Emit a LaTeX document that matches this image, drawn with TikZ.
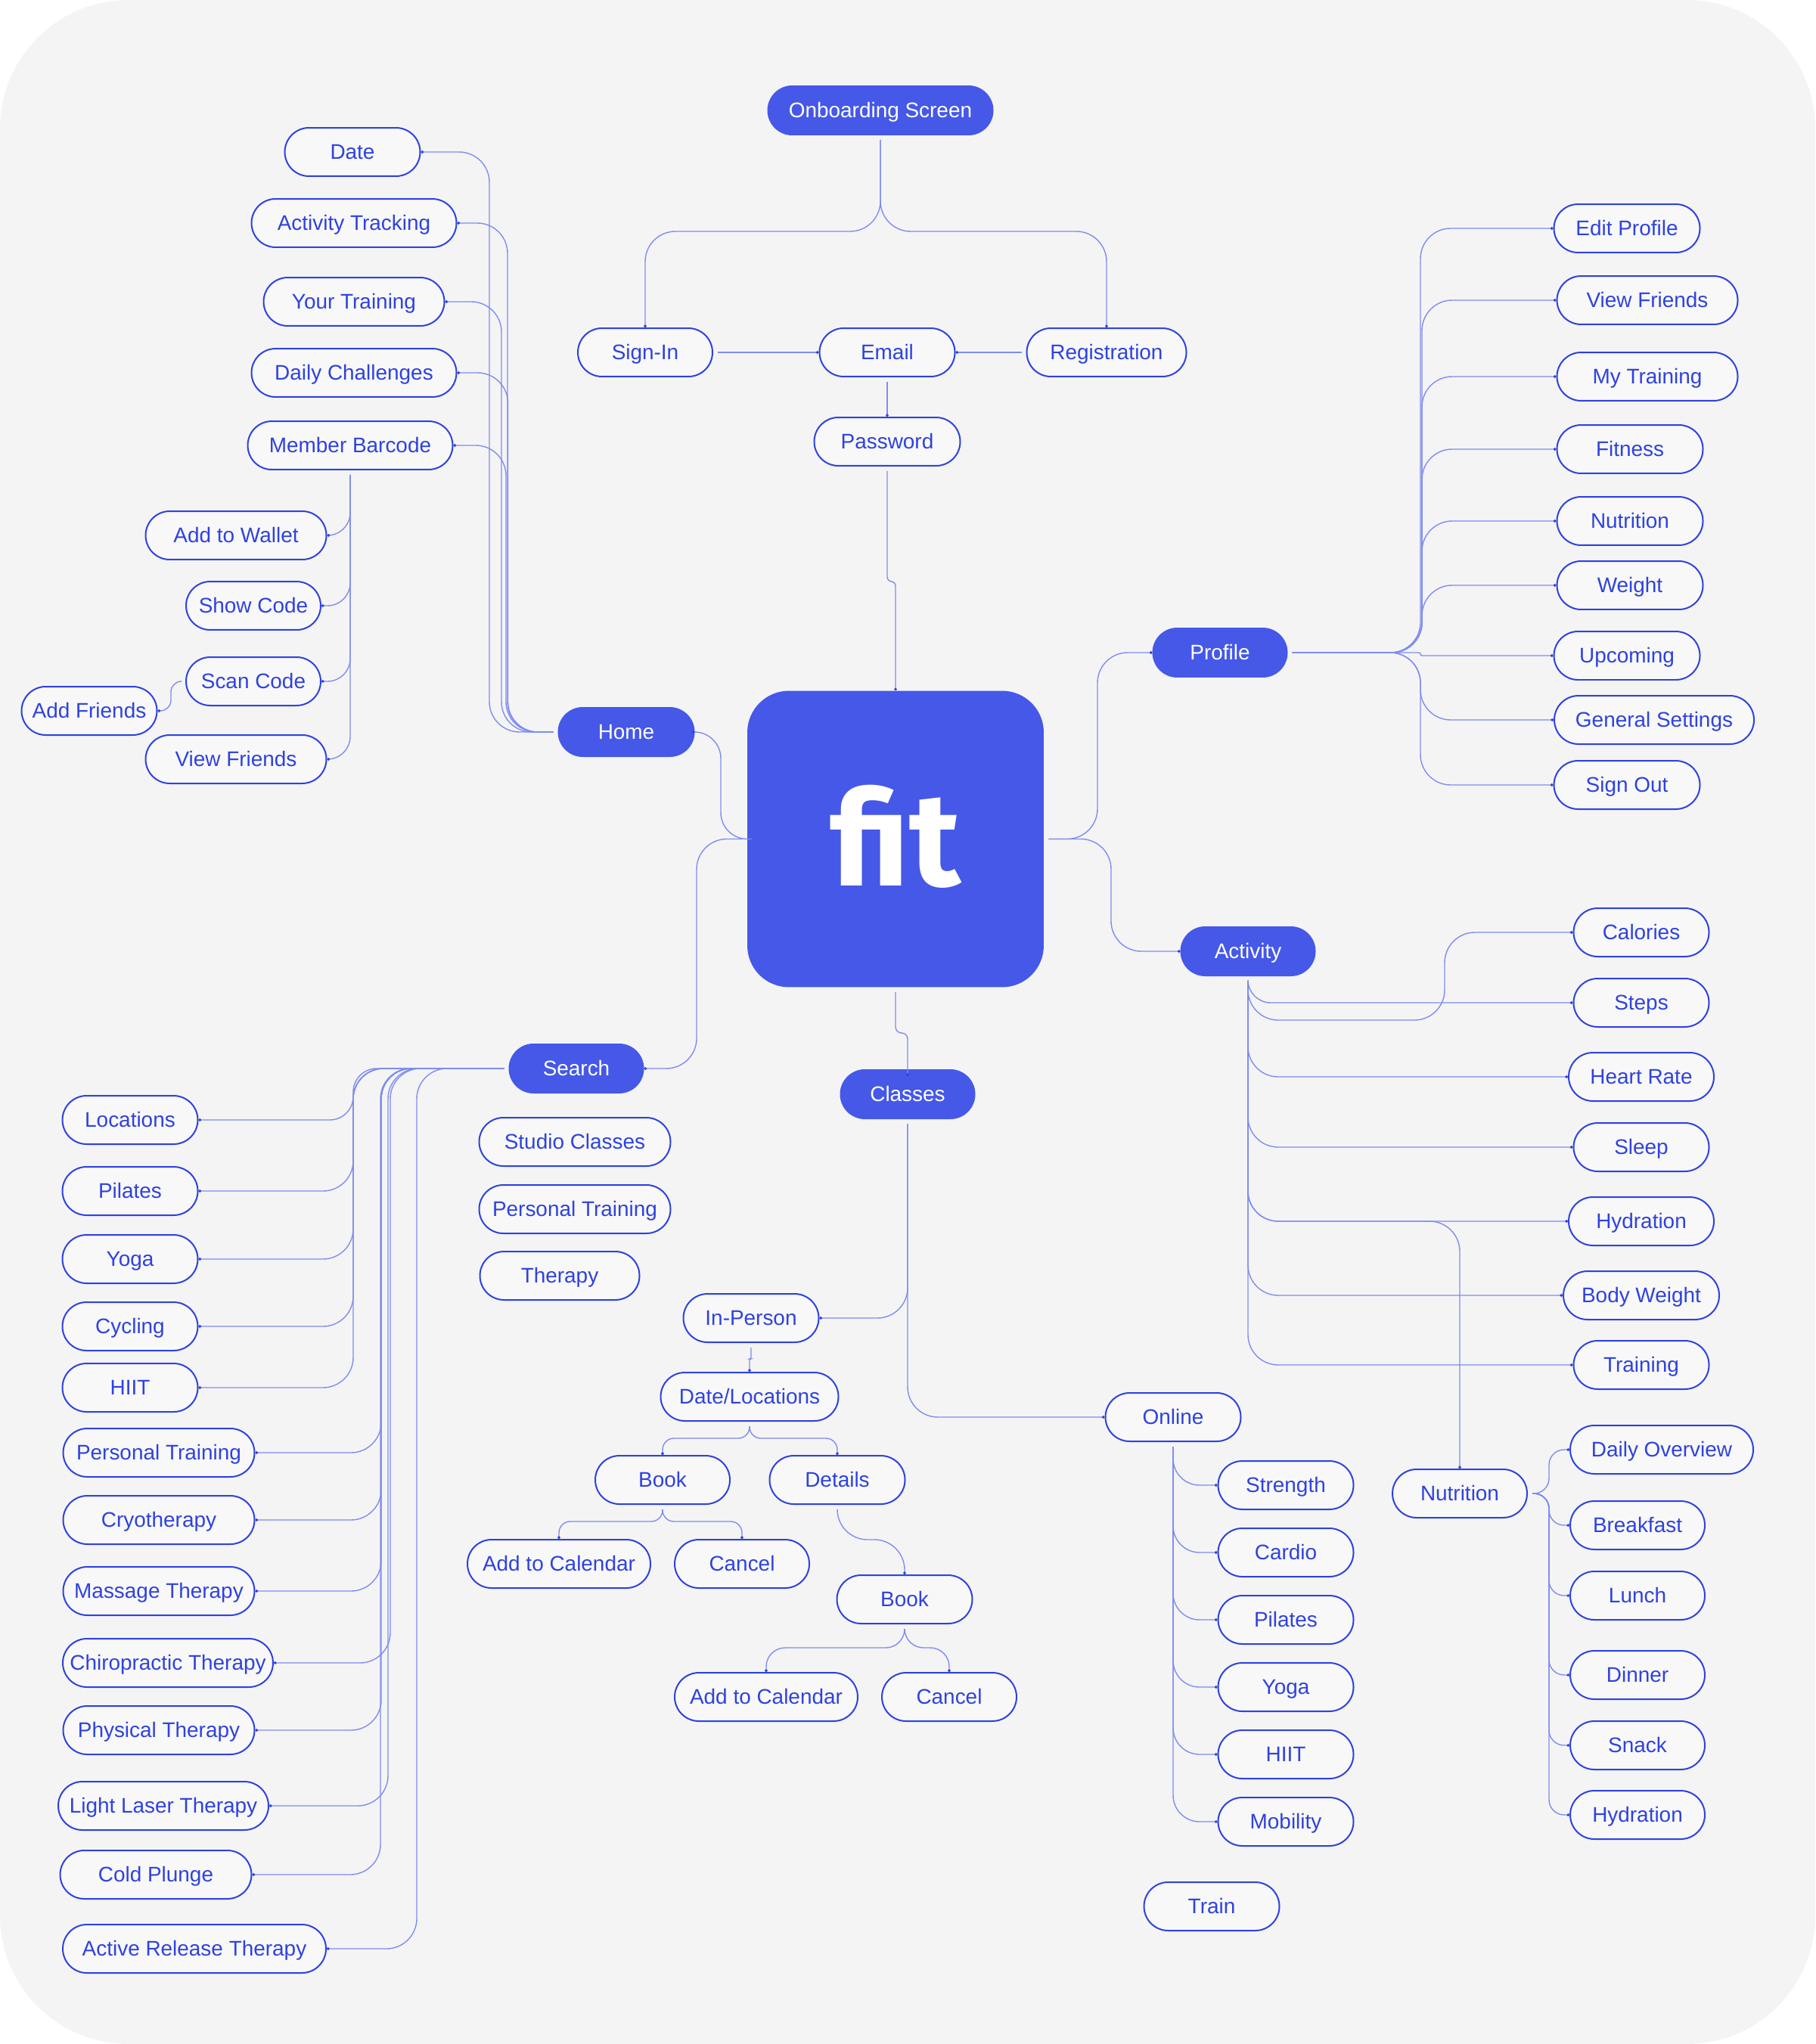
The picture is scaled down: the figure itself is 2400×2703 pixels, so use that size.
\documentclass[tikz,border=0pt]{standalone}
\usepackage{fontspec}
\setmainfont{Liberation Sans}
\newfontfamily\logofont{Fira Sans}
\usetikzlibrary{arrows.meta}
\definecolor{pageblue}{HTML}{4558E8}
\definecolor{edgeblue}{HTML}{2E42E0}
\definecolor{lineblue}{HTML}{7F8DEE}
\definecolor{pagegrey}{HTML}{F4F4F5}
\definecolor{pillgrey}{HTML}{F8F8F8}
\tikzset{
  pill/.style={draw=edgeblue,line width=0.04cm,fill=pillgrey,text=edgeblue,rounded corners=0.64cm,
    minimum width=(#1-2)*0.02cm,minimum height=1.28cm,inner sep=0pt,text height=0.56cm,text depth=0.18cm,font=\fontsize{15.9}{20}\selectfont},
  solidpill/.style={pill=#1,fill=pageblue,draw=pageblue,text=white},
  link/.style={draw=lineblue,line width=0.028cm,rounded corners=0.8cm,shorten <=0.12cm,-{Circle[length=2pt,color=edgeblue]}},
}
\begin{document}
\begin{tikzpicture}[x=0.02cm,y=-0.02cm]
\useasboundingbox (0,0) rectangle (2400,2703);
% Page
\fill[pagegrey,rounded corners=3.4cm] (0,0) rectangle (2400,2703);

% Centre
\node[fill=pageblue,rounded corners=1.1cm,minimum size=7.84cm,inner sep=0pt,text=white,text depth=0.2cm,font=\logofont\bfseries\fontsize{100}{100}\selectfont] (fit) at (1184,1109.5) {fit};

% Main pills
\node[solidpill=299] (onboard) at (1164,146) {Onboarding Screen};
\node[solidpill=181] (home) at (828,968) {Home};
\node[solidpill=179] (profile) at (1613,863) {Profile};
\node[solidpill=179] (activity) at (1650,1258) {Activity};
\node[solidpill=179] (classes) at (1200,1447) {Classes};
\node[solidpill=179] (search) at (762,1413) {Search};

% Onboarding
\node[pill=180] (signin) at (853,466) {Sign-In};
\node[pill=181] (email) at (1173,466) {Email};
\node[pill=213] (regist) at (1463,466) {Registration};
\node[pill=195] (password) at (1173,584) {Password};

\draw[link] (onboard.south) |- (853,306) -- (signin.north);
\draw[link] (onboard.south) |- (1463,306) -- (regist.north);
\draw[link] (signin.east) -- (email.west);
\draw[link] (regist.west) -- (email.east);
\draw[link] (email.south) -- (password.north);
\draw[link,rounded corners=0.12cm] (password.south) |- (1184,769) -- (fit.north);

% Home
\node[pill=181] (dateitem) at (466,201) {Date};
\node[pill=273] (tracking) at (468,295) {Activity Tracking};
\node[pill=241] (yourtrain) at (468,399) {Your Training};
\node[pill=273] (challenges) at (468,493) {Daily Challenges};
\node[pill=273] (barcode) at (463,589) {Member Barcode};
\node[pill=241] (wallet) at (312,708) {Add to Wallet};
\node[pill=180] (showcode) at (335,801) {Show Code};
\node[pill=180] (scancode) at (335,901) {Scan Code};
\node[pill=181] (addfriends) at (118,940) {Add Friends};
\node[pill=241] (viewfriends) at (312,1004) {View Friends};

\draw[link,rounded corners=0.7cm] (fit.west) -| (953,968) -- (home.east);
\draw[link] (home.west) -| (647,201) -- (dateitem.east);
\draw[link] (home.west) -| (671,295) -- (tracking.east);
\draw[link] (home.west) -| (663,399) -- (yourtrain.east);
\draw[link] (home.west) -| (671.5,493) -- (challenges.east);
\draw[link] (home.west) -| (669,589) -- (barcode.east);
\draw[link,rounded corners=0.6cm] (barcode.south) |- (wallet.east);
\draw[link,rounded corners=0.6cm] (barcode.south) |- (showcode.east);
\draw[link,rounded corners=0.6cm] (barcode.south) |- (scancode.east);
\draw[link,rounded corners=0.6cm] (barcode.south) |- (viewfriends.east);
\draw[link,rounded corners=0.28cm] (scancode.west) -| (226,940) -- (addfriends.east);

% Profile
\node[pill=195] (editprofile) at (2151,302) {Edit Profile};
\node[pill=241] (proffriends) at (2178,397) {View Friends};
\node[pill=241] (mytrain) at (2178,498) {My Training};
\node[pill=195] (fitness) at (2155,594) {Fitness};
\node[pill=195] (profnutrition) at (2155,689) {Nutrition};
\node[pill=195] (weight) at (2155,774) {Weight};
\node[pill=195] (upcoming) at (2151,867) {Upcoming};
\node[pill=266] (settings) at (2187,952) {General Settings};
\node[pill=195] (signout) at (2151,1038) {Sign Out};

\draw[link] (fit.east) -| (1451,863) -- (profile.west);
\draw[link] (profile.east) -| (1878,302) -- (editprofile.west);
\draw[link] (profile.east) -| (1880,397) -- (proffriends.west);
\draw[link] (profile.east) -| (1880,498) -- (mytrain.west);
\draw[link] (profile.east) -| (1880,594) -- (fitness.west);
\draw[link] (profile.east) -| (1880,689) -- (profnutrition.west);
\draw[link] (profile.east) -| (1880,774) -- (weight.west);
\draw[link,rounded corners=0.04cm] (profile.east) -| (1878,867) -- (upcoming.west);
\draw[link] (profile.east) -| (1878,952) -- (settings.west);
\draw[link] (profile.east) -| (1878,1038) -- (signout.west);

% Activity
\node[pill=181] (calories) at (2170,1233) {Calories};
\node[pill=181] (steps) at (2170,1326) {Steps};
\node[pill=194] (heartrate) at (2170,1424) {Heart Rate};
\node[pill=181] (sleep) at (2170,1517) {Sleep};
\node[pill=194] (hydration) at (2170,1615) {Hydration};
\node[pill=208] (bodyweight) at (2170,1713) {Body Weight};
\node[pill=181] (training) at (2170,1805) {Training};

\draw[link] (fit.east) -| (1469,1258) -- (activity.west);
\draw[link] (activity.south) |- (1910,1349) |- (calories.west);
\draw[link,rounded corners=0.6cm] (activity.south) |- (steps.west);
\draw[link] (activity.south) |- (heartrate.west);
\draw[link] (activity.south) |- (sleep.west);
\draw[link] (activity.south) |- (hydration.west);
\draw[link] (activity.south) |- (bodyweight.west);
\draw[link] (activity.south) |- (training.west);

% Nutrition
\node[pill=180] (nutrition) at (1930,1975) {Nutrition};
\node[pill=244] (overview) at (2197,1917) {Daily Overview};
\node[pill=180] (breakfast) at (2165,2017) {Breakfast};
\node[pill=180] (lunch) at (2165,2110) {Lunch};
\node[pill=180] (dinner) at (2165,2215) {Dinner};
\node[pill=180] (snack) at (2165,2308) {Snack};
\node[pill=180] (nutrihydra) at (2165,2400) {Hydration};

\draw[link] (activity.south) |- (1930,1615) -- (nutrition.north);
\draw[link,rounded corners=0.4cm] (nutrition.east) -| (2048,1917) -- (overview.west);
\draw[link,rounded corners=0.4cm] (nutrition.east) -| (2048,2017) -- (breakfast.west);
\draw[link,rounded corners=0.4cm] (nutrition.east) -| (2048,2110) -- (lunch.west);
\draw[link,rounded corners=0.4cm] (nutrition.east) -| (2048,2215) -- (dinner.west);
\draw[link,rounded corners=0.4cm] (nutrition.east) -| (2048,2308) -- (snack.west);
\draw[link,rounded corners=0.4cm] (nutrition.east) -| (2048,2400) -- (nutrihydra.west);

% Online
\node[pill=181] (online) at (1551,1874) {Online};
\node[pill=181] (strength) at (1700,1964) {Strength};
\node[pill=181] (cardio) at (1700,2053) {Cardio};
\node[pill=181] (onpilates) at (1700,2142) {Pilates};
\node[pill=181] (onyoga) at (1700,2231) {Yoga};
\node[pill=181] (onhiit) at (1700,2320) {HIIT};
\node[pill=181] (mobility) at (1700,2409) {Mobility};
\node[pill=181] (train) at (1602,2521) {Train};

\draw[link,rounded corners=0.7cm] (online.south) |- (strength.west);
\draw[link,rounded corners=0.7cm] (online.south) |- (cardio.west);
\draw[link,rounded corners=0.7cm] (online.south) |- (onpilates.west);
\draw[link,rounded corners=0.7cm] (online.south) |- (onyoga.west);
\draw[link,rounded corners=0.7cm] (online.south) |- (onhiit.west);
\draw[link,rounded corners=0.7cm] (online.south) |- (mobility.west);

% Classes
\node[pill=181] (inperson) at (993,1743) {In-Person};
\node[pill=237] (dateloc) at (991,1847) {Date/Locations};
\node[pill=180] (bookone) at (876,1957) {Book};
\node[pill=181] (details) at (1107,1957) {Details};
\node[pill=244] (calone) at (739,2068) {Add to Calendar};
\node[pill=180] (cancelone) at (981,2068) {Cancel};
\node[pill=181] (booktwo) at (1196,2115) {Book};
\node[pill=244] (caltwo) at (1013,2244) {Add to Calendar};
\node[pill=180] (canceltwo) at (1255,2244) {Cancel};

\draw[link,rounded corners=0.16cm,shorten >=-0.18cm] (fit.south) |- (1200,1366) -- (classes.north);
\draw[link] (classes.south) |- (inperson.east);
\draw[link] (classes.south) |- (online.west);
\draw[link,rounded corners=0.04cm] (inperson.south) |- (991,1797) -- (dateloc.north);
\draw[link,rounded corners=0.3cm] (dateloc.south) |- (876,1902) -- (bookone.north);
\draw[link,rounded corners=0.3cm] (dateloc.south) |- (1107,1902) -- (details.north);
\draw[link,rounded corners=0.3cm] (bookone.south) |- (739,2012) -- (calone.north);
\draw[link,rounded corners=0.3cm] (bookone.south) |- (981,2012) -- (cancelone.north);
\draw[link] (details.south) |- (1196,2036) -- (booktwo.north);
\draw[link,rounded corners=0.5cm] (booktwo.south) |- (1013,2179) -- (caltwo.north);
\draw[link,rounded corners=0.5cm] (booktwo.south) |- (1255,2179) -- (canceltwo.north);

% Search
\node[pill=181] (locations) at (172,1481) {Locations};
\node[pill=181] (pilates) at (172,1575) {Pilates};
\node[pill=181] (yoga) at (172,1665) {Yoga};
\node[pill=181] (cycling) at (172,1754) {Cycling};
\node[pill=181] (hiit) at (172,1835) {HIIT};
\node[pill=255] (personal) at (210,1921) {Personal Training};
\node[pill=255] (cryo) at (210,2010) {Cryotherapy};
\node[pill=255] (massage) at (210,2104) {Massage Therapy};
\node[pill=280] (chiro) at (222,2199) {Chiropractic Therapy};
\node[pill=255] (physical) at (210,2288) {Physical Therapy};
\node[pill=280] (laser) at (216,2388) {Light Laser Therapy};
\node[pill=255] (plunge) at (206,2479) {Cold Plunge};
\node[pill=350] (release) at (257,2577) {Active Release Therapy};
\node[pill=255] (studio) at (760,1510) {Studio Classes};
\node[pill=255] (personaltwo) at (760,1599) {Personal Training};
\node[pill=213] (therapy) at (740,1687) {Therapy};

\draw[link] (fit.west) -| (921,1413) -- (search.east);
\draw[link,rounded corners=0.62cm] (search.west) -| (467,1481) -- (locations.east);
\draw[link] (search.west) -| (467,1575) -- (pilates.east);
\draw[link] (search.west) -| (467,1665) -- (yoga.east);
\draw[link] (search.west) -| (467,1754) -- (cycling.east);
\draw[link] (search.west) -| (467,1835) -- (hiit.east);
\draw[link] (search.west) -| (504,1921) -- (personal.east);
\draw[link] (search.west) -| (504,2010) -- (cryo.east);
\draw[link] (search.west) -| (504,2104) -- (massage.east);
\draw[link] (search.west) -| (516,2199) -- (chiro.east);
\draw[link] (search.west) -| (504,2288) -- (physical.east);
\draw[link] (search.west) -| (513,2388) -- (laser.east);
\draw[link] (search.west) -| (503,2479) -- (plunge.east);
\draw[link] (search.west) -| (551,2577) -- (release.east);
\end{tikzpicture}
\end{document}
